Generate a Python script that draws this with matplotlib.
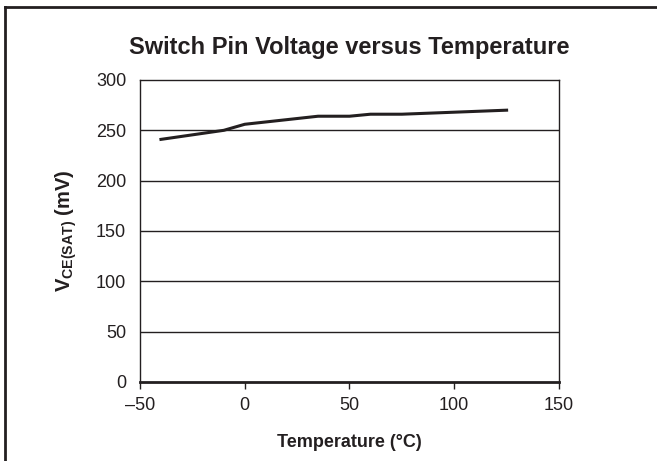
import matplotlib
matplotlib.use("Agg")
import matplotlib.pyplot as plt
from matplotlib.lines import Line2D

plt.rcParams['font.family'] = ['Liberation Sans', 'DejaVu Sans']
plt.rcParams['mathtext.fontset'] = 'custom'
plt.rcParams['mathtext.rm'] = 'Liberation Sans'
plt.rcParams['mathtext.bf'] = 'Liberation Sans:bold'

# data
temperature = [-40, -10, 0, 35, 50, 60, 75, 125]
vce_sat = [241, 250, 256, 264, 264, 266, 266, 270]
x_ticks = [-50, 0, 50, 100, 150]
x_tick_labels = ['\u201350', '0', '50', '100', '150']
y_ticks = [0, 50, 100, 150, 200, 250, 300]

fig = plt.figure(figsize=(6.57, 4.61), dpi=100)
ax = fig.add_axes([0.2131, 0.1714, 0.6377, 0.6551])

ax.plot(temperature, vce_sat, color='#231f20', lw=2.2)
for y in y_ticks[1:-1]:
    ax.axhline(y, color='#231f20', lw=1.0, zorder=0)

ax.set_xlim(-50, 150)
ax.set_ylim(0, 300)
ax.set_xticks(x_ticks)
ax.set_xticklabels(x_tick_labels)
ax.set_yticks(y_ticks)
ax.tick_params(axis='x', direction='out', length=5, width=1, labelsize=13, pad=6, colors='#231f20')
ax.tick_params(axis='y', length=0, labelsize=13, pad=10, colors='#231f20')
for s in ax.spines.values():
    s.set_color('#231f20')
    s.set_linewidth(1.0)
ax.spines['bottom'].set_linewidth(2.0)

ax.set_title('Switch Pin Voltage versus Temperature', fontsize=17, fontweight='bold',
             color='#231f20', pad=19)
ax.set_xlabel('Temperature (\u00b0C)', fontsize=13, fontweight='bold', color='#231f20', labelpad=14)
ax.set_ylabel(r'$\mathbf{V_{CE(SAT)}}$ (mV)', fontsize=14.5, fontweight='bold', color='#231f20', labelpad=12)

# outer frame (partially visible)
fig.add_artist(Line2D([0.008, 0.008], [0, 0.985], transform=fig.transFigure, color='#231f20', lw=2))
fig.add_artist(Line2D([0.008, 1.0], [0.985, 0.985], transform=fig.transFigure, color='#231f20', lw=2))

fig.savefig('out.png', dpi=100)
